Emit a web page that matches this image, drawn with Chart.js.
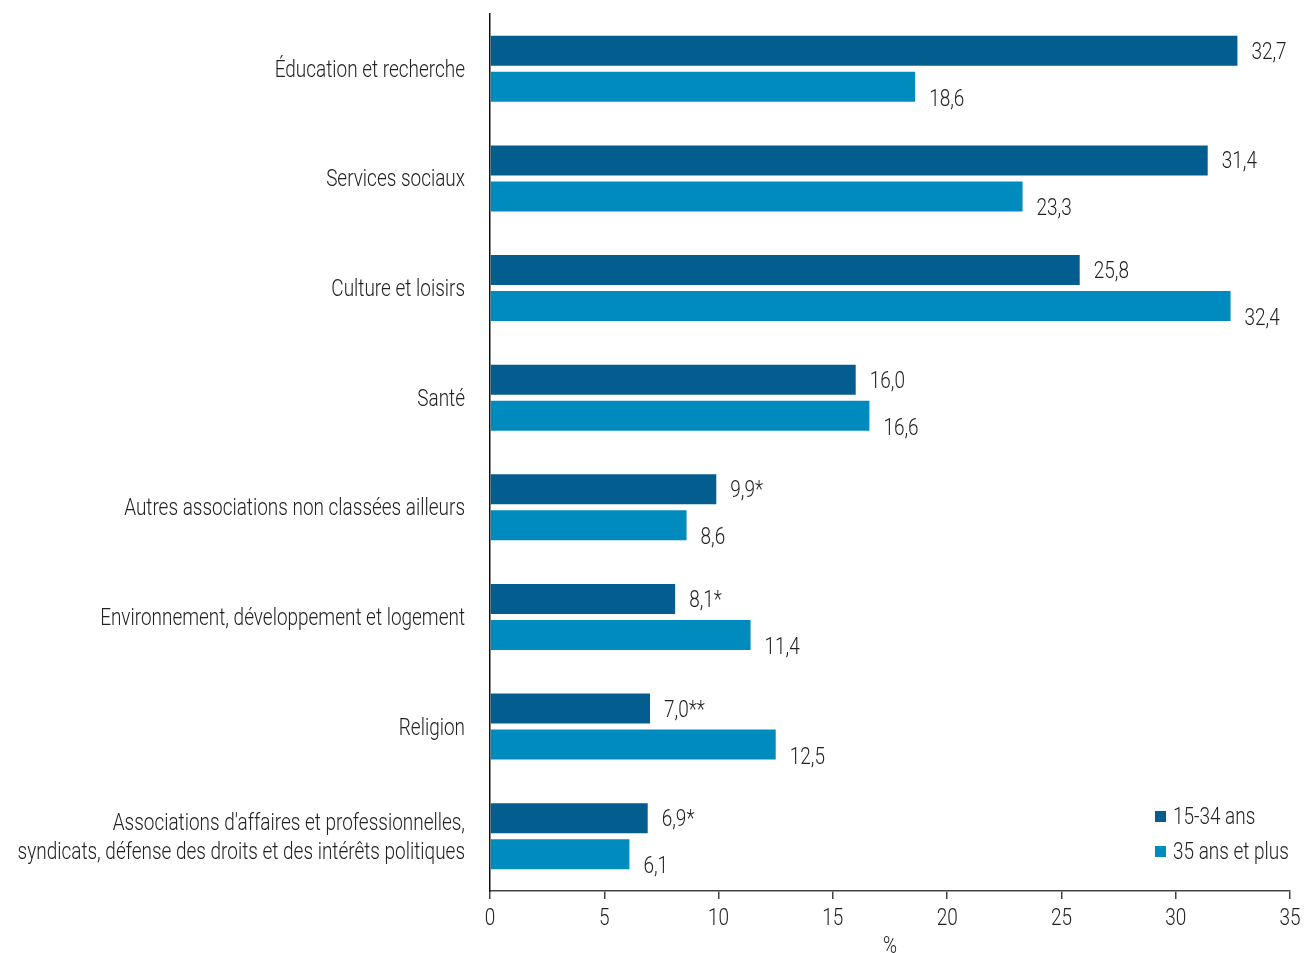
<!DOCTYPE html>
<html lang="fr">
<head>
<meta charset="utf-8">
<title>Bénévolat selon le type d'organisme</title>
<script src="https://cdn.jsdelivr.net/npm/chart.js@4.4.1/dist/chart.umd.min.js"></script>
<style>
  html, body { margin: 0; padding: 0; background: #fff; }
  #wrap { position: relative; width: 1305px; height: 953px; }
</style>
</head>
<body>
<div id="wrap"><canvas id="chart"></canvas></div>
<script>
const FONT = '300 24px Roboto, "DejaVu Sans Condensed", sans-serif';
const SX = 0.79;         // compression horizontale, le texte d'origine est étroit
const DY = 2;            // petit décalage vertical du texte
const INK = '#222';

const categories = [
  'Éducation et recherche',
  'Services sociaux',
  'Culture et loisirs',
  'Santé',
  'Autres associations non classées ailleurs',
  'Environnement, développement et logement',
  'Religion',
  ["Associations d'affaires et professionnelles,", 'syndicats, défense des droits et des intérêts politiques']
];

const seriesNames = ['15-34 ans', '35 ans et plus'];
const young = [32.7, 31.4, 25.8, 16.0, 9.9, 8.1, 7.0, 6.9];
const older = [18.6, 23.3, 32.4, 16.6, 8.6, 11.4, 12.5, 6.1];
const youngLabels = ['32,7', '31,4', '25,8', '16,0', '9,9*', '8,1*', '7,0**', '6,9*'];
const olderLabels = ['18,6', '23,3', '32,4', '16,6', '8,6', '11,4', '12,5', '6,1'];
const xTicks = [0, 5, 10, 15, 20, 25, 30, 35];
const xTitle = '%';

const colors = ['#035d8f', '#008bbf'];

function narrowText(ctx, text, x, y, align) {
  ctx.save();
  ctx.translate(x, y + DY);
  ctx.scale(SX, 1);
  ctx.textAlign = align;
  ctx.fillText(text, 0, 0);
  ctx.restore();
}

// tous les textes: étiquettes d'axes, valeurs, légende
const texts = {
  id: 'texts',
  afterDraw(chart) {
    const ctx = chart.ctx;
    const a = chart.chartArea;
    const xs = chart.scales.x;
    const ys = chart.scales.y;
    ctx.save();
    ctx.font = FONT;
    ctx.fillStyle = INK;
    ctx.textBaseline = 'middle';

    // catégories
    categories.forEach((lab, i) => {
      const y = ys.getPixelForTick(i);
      const lines = Array.isArray(lab) ? lab : [lab];
      lines.forEach((ln, k) => {
        narrowText(ctx, ln, a.left - 25, y + (k - (lines.length - 1) / 2) * 29, 'right');
      });
    });

    // graduations
    xTicks.forEach(v => narrowText(ctx, String(v), xs.getPixelForValue(v), a.bottom + 26, 'center'));
    narrowText(ctx, xTitle, (a.left + a.right) / 2, a.bottom + 54, 'center');

    // valeurs
    const vals = [youngLabels, olderLabels];
    chart.data.datasets.forEach((ds, i) => {
      chart.getDatasetMeta(i).data.forEach((bar, j) => {
        narrowText(ctx, vals[i][j], bar.x + 14, bar.y + (i === 1 ? 11 : 0), 'left');
      });
    });

    // légende
    chart.data.datasets.forEach((ds, i) => {
      const y = a.bottom - 75 + i * 35;
      ctx.fillStyle = ds.backgroundColor;
      ctx.fillRect(a.right - 135, y - 5, 11, 11);
      ctx.fillStyle = INK;
      narrowText(ctx, ds.label, a.right - 117, y, 'left');
    });
    ctx.restore();
  }
};

new Chart(document.getElementById('chart'), {
  type: 'bar',
  data: {
    labels: categories,
    datasets: [
      { label: seriesNames[0], data: young, backgroundColor: colors[0] },
      { label: seriesNames[1], data: older, backgroundColor: colors[1] }
    ]
  },
  options: {
    indexAxis: 'y',
    responsive: true,
    maintainAspectRatio: false,
    animation: false,
    categoryPercentage: 0.657,
    barPercentage: 0.833,
    layout: { padding: { top: 14, right: 15, left: 0, bottom: 0 } },
    plugins: {
      legend: { display: false },
      tooltip: { enabled: false }
    },
    scales: {
      x: {
        min: 0,
        max: 35,
        afterBuildTicks: s => { s.ticks = xTicks.map(v => ({ value: v })); },
        afterFit: s => { s.height = 62; s.paddingLeft = 0; s.paddingRight = 0; },
        grid: { drawOnChartArea: false, drawTicks: true, tickLength: 8, color: '#444', lineWidth: 1.5 },
        border: { display: true, color: '#444', width: 1.5 },
        ticks: { display: false }
      },
      y: {
        afterFit: s => { s.width = 490; s.paddingTop = 0; s.paddingBottom = 0; },
        grid: { display: false },
        border: { display: true, color: '#111', width: 1.5 },
        ticks: { display: false }
      }
    }
  },
  plugins: [texts]
});
</script>
</body>
</html>
